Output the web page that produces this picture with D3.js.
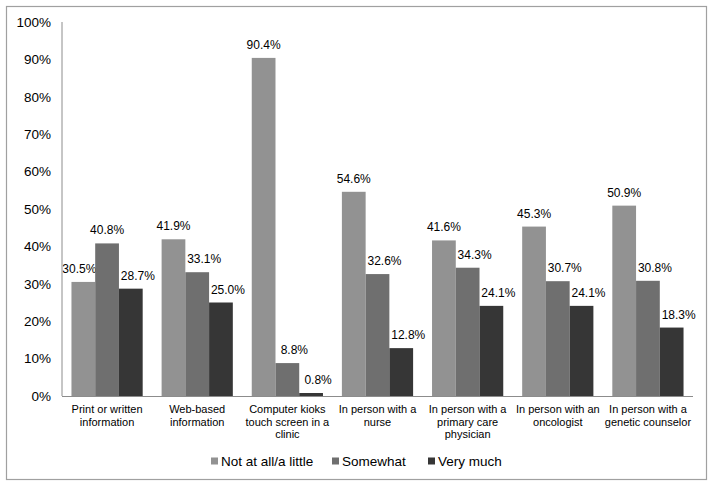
<!DOCTYPE html>
<html>
<head>
<meta charset="utf-8">
<script src="https://cdn.jsdelivr.net/npm/d3@7"></script>
<style>
body { margin: 0; background: #fff; }
text { font-family: Arial, "Liberation Sans", sans-serif; fill: #000; }
</style>
</head>
<body>
<div id="chart"></div>
<script>
var categories = [
    ["Print or written", "information"],
    ["Web-based", "information"],
    ["Computer kioks", "touch screen in a", "clinic"],
    ["In person with a", "nurse"],
    ["In person with a", "primary care", "physician"],
    ["In person with an", "oncologist"],
    ["In person with a", "genetic counselor"]
];
var seriesNames = ["Not at all/a little", "Somewhat", "Very much"];
var notAtAll = [30.5, 41.9, 90.4, 54.6, 41.6, 45.3, 50.9];
var somewhat = [40.8, 33.1, 8.8, 32.6, 34.3, 30.7, 30.8];
var veryMuch = [28.7, 25.0, 0.8, 12.8, 24.1, 24.1, 18.3];
var yTicks = [0, 10, 20, 30, 40, 50, 60, 70, 80, 90, 100];

var colors = ["#929292", "#6f6f6f", "#363636"];
var allSeries = [notAtAll, somewhat, veryMuch];

var width = 714, height = 488;
var plot = {left: 62, right: 693, top: 22, bottom: 396};

var svg = d3.select("#chart").append("svg")
    .attr("width", width)
    .attr("height", height);

// outer frame
svg.append("rect")
    .attr("x", 6.5).attr("y", 6.5)
    .attr("width", 700).attr("height", 473)
    .attr("fill", "none")
    .attr("stroke", "#a0a0a0")
    .attr("stroke-width", 1.2);

var x0 = d3.scaleBand()
    .domain(d3.range(categories.length))
    .range([plot.left, plot.right])
    .paddingInner(0.21)
    .paddingOuter(0.105);

var x1 = d3.scaleBand()
    .domain(d3.range(seriesNames.length))
    .range([0, x0.bandwidth()]);

var y = d3.scaleLinear()
    .domain([0, 100])
    .range([plot.bottom, plot.top]);

// y tick labels
svg.selectAll(".ytick")
    .data(yTicks)
    .enter().append("text")
    .attr("x", 51)
    .attr("y", function(d) { return y(d) })
    .attr("dy", "0.35em")
    .style("text-anchor", "end")
    .style("font-size", "13.5px")
    .text(function(d) { return d + "%" });

// bars
var groups = svg.selectAll(".group")
    .data(categories)
    .enter().append("g")
    .attr("transform", function(d, i) { return "translate(" + x0(i) + ",0)" });

groups.each(function(c, i) {
    var g = d3.select(this);
    var vals = allSeries.map(function(s) { return s[i] });
    vals.forEach(function(v, j) {
        g.append("rect")
            .attr("x", x1(j))
            .attr("y", y(v))
            .attr("width", x1.bandwidth())
            .attr("height", plot.bottom - y(v))
            .attr("fill", colors[j]);

        // nudge labels sideways like the spreadsheet does when they would hit a neighbour
        var shift = 0;
        if (j > 0 && v < vals[j - 1]) shift = 7;
        if (j === 0 && vals[1] > v) shift = -4;
        g.append("text")
            .attr("x", x1(j) + x1.bandwidth() / 2 + shift)
            .attr("y", y(v) - 9)
            .style("text-anchor", "middle")
            .style("font-size", "12px")
            .text(v.toFixed(1) + "%");
    });

    var lbl = g.append("text")
        .style("text-anchor", "middle")
        .style("font-size", "11px");
    c.forEach(function(line, k) {
        lbl.append("tspan")
            .attr("x", x0.bandwidth() / 2)
            .attr("y", 413 + k * 12.5)
            .text(line);
    });
});

// axes lines
svg.append("line")
    .attr("x1", plot.left).attr("x2", plot.left)
    .attr("y1", plot.top).attr("y2", plot.bottom)
    .attr("stroke", "#8c8c8c");
svg.append("line")
    .attr("x1", plot.left).attr("x2", plot.right)
    .attr("y1", plot.bottom + 0.5).attr("y2", plot.bottom + 0.5)
    .attr("stroke", "#8c8c8c");

// legend
var legendX = [211, 332, 428];
var legend = svg.selectAll(".legend")
    .data(seriesNames)
    .enter().append("g")
    .attr("transform", function(d, i) { return "translate(" + legendX[i] + ",461)" });

legend.append("rect")
    .attr("x", 0).attr("y", -3.5)
    .attr("width", 7).attr("height", 7)
    .attr("fill", function(d, i) { return colors[i] });

legend.append("text")
    .attr("x", 10)
    .attr("dy", "0.35em")
    .style("font-size", "13.5px")
    .text(function(d) { return d });
</script>
</body>
</html>
